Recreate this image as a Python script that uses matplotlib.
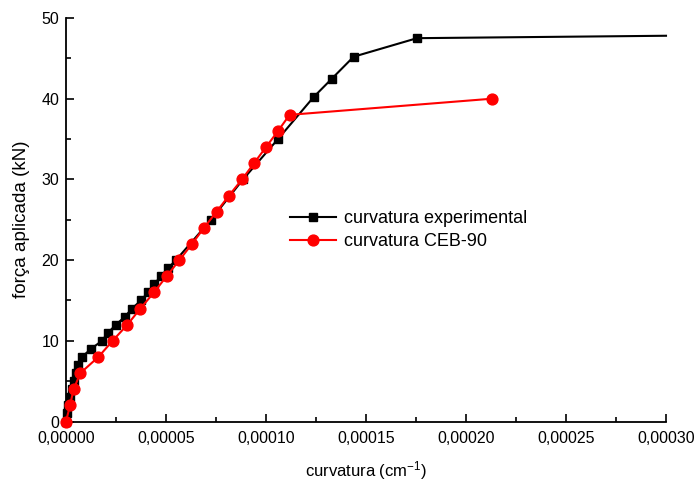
import matplotlib
matplotlib.use("Agg")
import matplotlib.pyplot as plt
from matplotlib.ticker import FuncFormatter, MultipleLocator

plt.rcParams['font.family'] = ['Liberation Sans', 'DejaVu Sans']
plt.rcParams['mathtext.default'] = 'regular'

# Experimental curvature (cm^-1) vs applied load (kN)
curv_exp = [0, 5e-7, 1.2e-6, 2e-6, 3e-6, 3.8e-6, 5e-6, 6.2e-6, 8e-6, 1.25e-5,
            1.8e-5, 2.1e-5, 2.5e-5, 2.95e-5, 3.3e-5, 3.75e-5, 4.1e-5, 4.4e-5,
            4.75e-5, 5.1e-5, 5.5e-5, 7.25e-5, 8.85e-5, 1.06e-4, 1.238e-4,
            1.33e-4, 1.438e-4, 1.755e-4, 3.0e-4]
force_exp = [0, 1, 2, 3, 4, 5, 6, 7, 8, 9,
             10, 11, 12, 13, 14, 15, 16, 17,
             18, 19, 20, 25, 30, 35, 40.2,
             42.5, 45.2, 47.5, 47.8]

# CEB-90 model curvature vs applied load
curv_ceb = [0, 2e-6, 3.8e-6, 7.2e-6, 1.62e-5, 2.33e-5, 3.07e-5, 3.72e-5, 4.4e-5,
            5.03e-5, 5.67e-5, 6.3e-5, 6.9e-5, 7.53e-5, 8.15e-5, 8.8e-5, 9.4e-5,
            1.0e-4, 1.06e-4, 1.118e-4, 2.13e-4]
force_ceb = [0, 2, 4, 6, 8, 10, 12, 14, 16,
             18, 20, 22, 24, 26, 28, 30, 32,
             34, 36, 38, 40]

fig = plt.figure(figsize=(6.98, 4.84), dpi=100)
ax = fig.add_axes([66 / 698, 1 - 421.5 / 484, 600 / 698, 403.5 / 484])

# the last experimental reading sits on the axis edge and carries no marker
ax.plot(curv_exp, force_exp, color='black', lw=1.5, marker='s', ms=6.3,
        markevery=list(range(len(curv_exp) - 1)), clip_on=False,
        label='curvatura experimental', zorder=3)
ax.plot(curv_ceb, force_ceb, color='#ff0000', lw=1.5, marker='o', ms=7.8,
        clip_on=False, label='curvatura CEB-90', zorder=4)

ax.set_xlim(0, 0.0003)
ax.set_ylim(0, 50)

ax.xaxis.set_major_locator(MultipleLocator(0.00005))
ax.xaxis.set_minor_locator(MultipleLocator(0.000025))
ax.yaxis.set_major_locator(MultipleLocator(10))
ax.yaxis.set_minor_locator(MultipleLocator(5))
ax.xaxis.set_major_formatter(FuncFormatter(lambda v, p: f"{v:.5f}".replace('.', ',')))
ax.yaxis.set_major_formatter(FuncFormatter(lambda v, p: f"{v:.0f}"))

for s in ('top', 'right'):
    ax.spines[s].set_visible(False)
for s in ('left', 'bottom'):
    ax.spines[s].set_linewidth(1.3)

ax.tick_params(which='major', direction='in', length=6, width=1.2, labelsize=11.5)
ax.tick_params(which='minor', direction='in', length=3.5, width=1.2)
ax.tick_params(axis='x', pad=7)
ax.tick_params(axis='y', pad=5)

ax.set_xlabel('curvatura (cm$^{-1}$)', fontsize=12, labelpad=9)
ax.set_ylabel('força aplicada (kN)', fontsize=13.5, labelpad=8)

ax.legend(loc='upper left', bbox_to_anchor=(0.362, 0.5425), frameon=False,
          fontsize=13, handlelength=2.55, handletextpad=0.4, labelspacing=0.35,
          borderaxespad=0)

fig.savefig('out.png', dpi=100)
